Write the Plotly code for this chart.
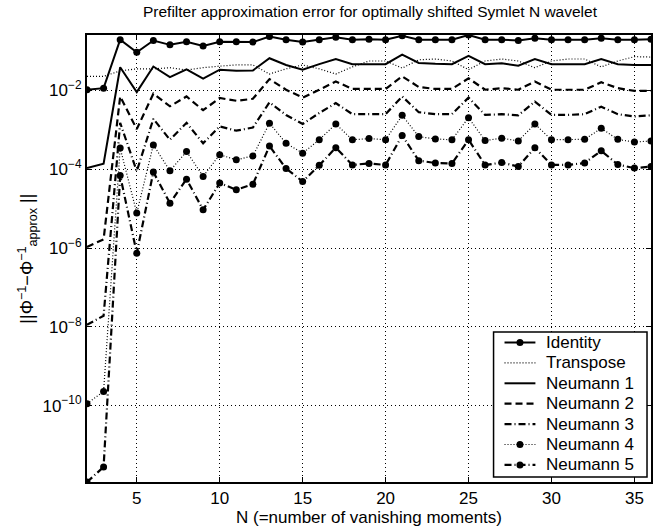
import plotly.graph_objects as go

# Number of vanishing moments
N = list(range(2, 37))

# log10 of the prefilter approximation error for each method
identity_log10 = [-1.98, -1.94, -0.71, -1.03, -0.73, -0.84, -0.76, -0.87, -0.76, -0.76,
                  -0.77, -0.63, -0.71, -0.77, -0.71, -0.65, -0.71, -0.70, -0.71, -0.61,
                  -0.71, -0.71, -0.71, -0.59, -0.71, -0.71, -0.73, -0.67, -0.71, -0.71,
                  -0.71, -0.67, -0.71, -0.71, -0.70]
transpose_log10 = [-1.64, -1.64, -1.50, -1.45, -1.45, -1.42, -1.48, -1.42, -1.38, -1.35,
                   -1.35, -1.58, -1.45, -1.35, -1.45, -1.58, -1.40, -1.25, -1.25, -1.43,
                   -1.22, -1.20, -1.25, -1.47, -1.25, -1.20, -1.25, -1.42, -1.25, -1.20,
                   -1.20, -1.40, -1.25, -1.14, -1.15]
neumann1_log10 = [-3.97, -3.86, -1.41, -2.04, -1.39, -1.66, -1.46, -1.70, -1.47, -1.50,
                  -1.49, -1.18, -1.35, -1.47, -1.33, -1.20, -1.33, -1.33, -1.33, -1.09,
                  -1.30, -1.32, -1.33, -1.12, -1.33, -1.31, -1.37, -1.20, -1.33, -1.33,
                  -1.33, -1.20, -1.33, -1.35, -1.35]
neumann2_log10 = [-5.97, -5.78, -2.15, -2.98, -2.08, -2.40, -2.15, -2.50, -2.19, -2.26,
                  -2.21, -1.71, -1.98, -2.18, -1.98, -1.77, -1.96, -1.96, -1.96, -1.64,
                  -1.91, -1.96, -1.96, -1.69, -1.98, -1.94, -1.98, -1.77, -1.98, -1.98,
                  -1.98, -1.79, -1.94, -2.01, -2.01]
neumann3_log10 = [-7.95, -7.72, -2.82, -4.05, -2.72, -3.25, -2.82, -3.34, -2.91, -3.02,
                  -2.94, -2.30, -2.62, -2.85, -2.57, -2.32, -2.60, -2.60, -2.60, -2.15,
                  -2.55, -2.60, -2.60, -2.18, -2.62, -2.60, -2.63, -2.28, -2.62, -2.62,
                  -2.60, -2.41, -2.60, -2.66, -2.63]
neumann4_log10 = [-9.95, -9.64, -3.46, -5.11, -3.38, -4.04, -3.55, -4.18, -3.63, -3.76,
                  -3.66, -2.83, -3.34, -3.59, -3.25, -2.85, -3.25, -3.22, -3.25, -2.63,
                  -3.17, -3.23, -3.25, -2.69, -3.27, -3.21, -3.28, -2.85, -3.25, -3.25,
                  -3.24, -2.96, -3.24, -3.31, -3.28]
neumann5_log10 = [-11.94, -11.56, -4.16, -6.13, -4.07, -4.86, -4.25, -5.03, -4.35, -4.52,
                  -4.38, -3.41, -3.98, -4.31, -3.90, -3.45, -3.89, -3.85, -3.89, -3.14,
                  -3.78, -3.84, -3.85, -3.25, -3.89, -3.83, -3.93, -3.45, -3.89, -3.89,
                  -3.84, -3.53, -3.88, -3.97, -3.93]

x_ticks = [5, 10, 15, 20, 25, 30, 35]
y_tick_exponents = [-2, -4, -6, -8, -10]

FONT = "Liberation Sans, Arial, Helvetica, sans-serif"
BLACK = "#000000"

W, H = 655, 531
ML, MR, MT, MB = 87, 2, 35, 49
PW, PH = W - ML - MR, H - MT - MB


def px(x):
    """Pixel column -> paper x."""
    return (x - ML) / PW


def py(y):
    """Pixel row -> paper y."""
    return (H - MB - y) / PH


series = [
    ("Identity", identity_log10, dict(width=2, dash="solid"), True),
    ("Transpose", transpose_log10, dict(width=1.2, dash="1px,2px"), False),
    ("Neumann 1", neumann1_log10, dict(width=2, dash="solid"), False),
    ("Neumann 2", neumann2_log10, dict(width=2.2, dash="7px,4px"), False),
    ("Neumann 3", neumann3_log10, dict(width=2.2, dash="7px,3px,1px,3px"), False),
    ("Neumann 4", neumann4_log10, dict(width=1.2, dash="1px,2px"), True),
    ("Neumann 5", neumann5_log10, dict(width=2.2, dash="7px,3px,1px,3px"), True),
]

fig = go.Figure()
for name, vals, line, has_marker in series:
    fig.add_trace(go.Scatter(
        x=N,
        y=[10 ** v for v in vals],
        name=name,
        mode="lines+markers" if has_marker else "lines",
        line=dict(color=BLACK, **line),
        marker=dict(symbol="circle", size=7, color=BLACK),
        showlegend=False,
    ))

all_vals = [v for _, vals, _, _ in series for v in vals]

# Compact boxed legend in the lower-right corner of the axes
LEG_L, LEG_R, LEG_T, LEG_B = 495, 649, 332, 477
ROW0, ROW_STEP = 342.5, 20.4
SAMPLE_L, SAMPLE_R, TEXT_L = 506, 537, 546

shapes = [dict(
    type="rect", xref="paper", yref="paper",
    x0=px(LEG_L), x1=px(LEG_R), y0=py(LEG_B), y1=py(LEG_T),
    line=dict(color=BLACK, width=1.5), fillcolor="white", layer="above",
)]
annotations = []
for i, (name, _, line, has_marker) in enumerate(series):
    yc = ROW0 + i * ROW_STEP
    shapes.append(dict(
        type="line", xref="paper", yref="paper",
        x0=px(SAMPLE_L), x1=px(SAMPLE_R), y0=py(yc), y1=py(yc),
        line=dict(color=BLACK, **line), layer="above",
    ))
    if has_marker:
        xc = (SAMPLE_L + SAMPLE_R) / 2
        shapes.append(dict(
            type="circle", xref="paper", yref="paper",
            x0=px(xc - 3.5), x1=px(xc + 3.5), y0=py(yc + 3.5), y1=py(yc - 3.5),
            line=dict(color=BLACK, width=0), fillcolor=BLACK, layer="above",
        ))
    annotations.append(dict(
        text=name, xref="paper", yref="paper",
        x=px(TEXT_L), y=py(yc), xanchor="left", yanchor="middle",
        showarrow=False, font=dict(family=FONT, size=17, color=BLACK),
    ))

annotations += [
    dict(
        text="N (=number of vanishing moments)",
        xref="paper", yref="paper",
        x=0.5, y=py(517),
        xanchor="center", yanchor="middle",
        showarrow=False,
        font=dict(family=FONT, size=17, color=BLACK),
    ),
    dict(
        text="||\u03a6<sup>\u22121</sup>\u2212\u03a6<sup>\u22121</sup><sub>approx</sub> ||",
        xref="paper", yref="paper",
        x=px(27), y=0.5,
        xanchor="center", yanchor="middle",
        textangle=-90,
        showarrow=False,
        font=dict(family=FONT, size=18, color=BLACK),
    ),
]

axis_common = dict(
    ticks="inside",
    ticklen=5,
    tickwidth=1,
    tickcolor=BLACK,
    showline=True,
    linecolor=BLACK,
    linewidth=2,
    mirror="ticks",
    showgrid=True,
    gridcolor=BLACK,
    gridwidth=1,
    griddash="1px,3px",
    zeroline=False,
    tickfont=dict(family=FONT, size=17, color=BLACK),
)

fig.update_layout(
    width=W,
    height=H,
    margin=dict(l=ML, r=MR, t=MT, b=MB),
    paper_bgcolor="white",
    plot_bgcolor="white",
    font=dict(family=FONT, size=17, color=BLACK),
    title=dict(
        text="Prefilter approximation error for optimally shifted Symlet N wavelet",
        x=(ML + PW / 2) / W, xanchor="center",
        y=1 - 12 / H, yanchor="middle",
        font=dict(family=FONT, size=15.5, color=BLACK),
    ),
    showlegend=False,
    xaxis=dict(
        range=[min(N), max(N)],
        tickmode="array",
        tickvals=x_ticks,
        **axis_common,
    ),
    yaxis=dict(
        type="log",
        range=[min(all_vals), max(all_vals)],
        tickmode="array",
        tickvals=[10 ** e for e in y_tick_exponents],
        ticktext=["10<sup>\u2212%d</sup>" % (-e) for e in y_tick_exponents],
        **axis_common,
    ),
    shapes=shapes,
    annotations=annotations,
)

fig.write_html("out.html")
